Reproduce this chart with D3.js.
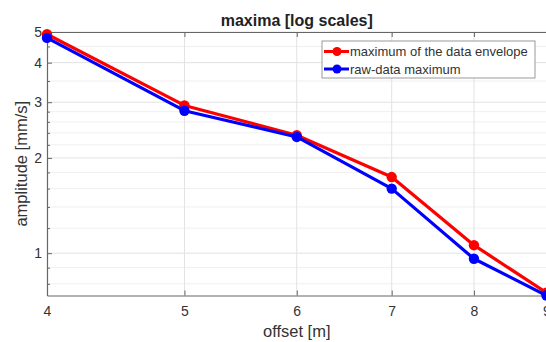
<!DOCTYPE html>
<html>
<head>
<meta charset="utf-8">
<script src="https://cdn.jsdelivr.net/npm/d3@7"></script>
<style>
  html, body { margin: 0; padding: 0; background: #fff; overflow: hidden; }
  svg { display: block; font-family: "Liberation Sans", Arial, sans-serif; }
</style>
</head>
<body>
<svg id="chart" width="546" height="342"></svg>
<script>
// Offsets [m] and the two maxima series [mm/s]
const offsets = [4, 5, 6, 7, 8, 9];
const envelopeMax = [4.92, 2.93, 2.36, 1.74, 1.06, 0.75];
const rawMax = [4.79, 2.82, 2.33, 1.60, 0.96, 0.735];

const seriesNames = ["maximum of the data envelope", "raw-data maximum"];
const seriesColors = ["#ff0000", "#0000ff"];

const xTicks = [4, 5, 6, 7, 8, 9];
const yTicks = [1, 2, 3, 4, 5];
const yMinor = [0.8, 0.9, 1.2, 1.4, 1.6, 1.8, 2.2, 2.4, 2.6, 2.8, 3.5, 4.5];

const svg = d3.select("#chart");
const plotLeft = 47, plotRight = 546.5, plotTop = 32, plotBottom = 295.5;

const x = d3.scaleLog().domain([4, 9]).range([plotLeft, plotRight]);
const y = d3.scaleLog().domain([0.735, 5]).range([plotBottom, plotTop]);

const axisColor = "#666";
const textColor = "#333";

// grid
const grid = svg.append("g");
grid.selectAll("line.ym").data(yMinor).join("line")
  .attr("x1", plotLeft).attr("x2", plotRight)
  .attr("y1", d => y(d)).attr("y2", d => y(d))
  .attr("stroke", "#efefef").attr("stroke-width", 1);
grid.selectAll("line.y").data(yTicks).join("line")
  .attr("x1", plotLeft).attr("x2", plotRight)
  .attr("y1", d => y(d)).attr("y2", d => y(d))
  .attr("stroke", "#e2e2e2").attr("stroke-width", 1);
grid.selectAll("line.x").data(xTicks.slice(1, -1)).join("line")
  .attr("x1", d => x(d)).attr("x2", d => x(d))
  .attr("y1", plotTop).attr("y2", plotBottom)
  .attr("stroke", "#e2e2e2").attr("stroke-width", 1);

// axes (ticks point inward)
const xAxis = d3.axisBottom(x).tickValues(xTicks).tickFormat(d3.format("d"))
  .tickSizeInner(-5).tickSizeOuter(0).tickPadding(11);
const gx = svg.append("g").attr("transform", `translate(0,${plotBottom})`).call(xAxis);
const xTop = d3.axisTop(x).tickValues(xTicks).tickFormat("").tickSizeInner(-5).tickSizeOuter(0);
const gxt = svg.append("g").attr("transform", `translate(0,${plotTop})`).call(xTop);

const yAxis = d3.axisLeft(y).tickValues(yTicks).tickFormat(d3.format("d"))
  .tickSizeInner(-5).tickSizeOuter(0).tickPadding(5);
const gy = svg.append("g").attr("transform", `translate(${plotLeft},0)`).call(yAxis);
const yMinorAxis = d3.axisLeft(y).tickValues(yMinor).tickFormat("").tickSizeInner(-3).tickSizeOuter(0);
const gym = svg.append("g").attr("transform", `translate(${plotLeft},0)`).call(yMinorAxis);
gym.select(".domain").remove();

[gx, gxt, gy, gym].forEach(g => {
  g.selectAll(".domain").attr("stroke", axisColor).attr("stroke-width", 1.2);
  g.selectAll(".tick line").attr("stroke", axisColor);
  g.selectAll("text").attr("fill", textColor).attr("font-size", 14)
    .attr("font-family", "Liberation Sans, Arial, sans-serif");
});

// series
const seriesData = [envelopeMax, rawMax];
const line = d3.line().x(d => x(d[0])).y(d => y(d[1]));
seriesData.forEach((vals, i) => {
  const pts = offsets.map((o, j) => [o, vals[j]]);
  svg.append("path").datum(pts)
    .attr("d", line).attr("fill", "none")
    .attr("stroke", seriesColors[i]).attr("stroke-width", 3.2)
    .attr("stroke-linejoin", "round");
  svg.append("g").selectAll("circle").data(pts).join("circle")
    .attr("cx", d => x(d[0])).attr("cy", d => y(d[1])).attr("r", 5.2)
    .attr("fill", seriesColors[i]);
});

// title and axis labels
svg.append("text").attr("x", (plotLeft + plotRight) / 2).attr("y", 26)
  .attr("text-anchor", "middle").attr("font-weight", "bold").attr("font-size", 16)
  .attr("fill", "#222").text("maxima [log scales]");
svg.append("text").attr("x", (plotLeft + plotRight) / 2).attr("y", 337)
  .attr("text-anchor", "middle").attr("font-size", 16.5).attr("fill", textColor)
  .text("offset [m]");
svg.append("text")
  .attr("transform", `translate(27,${(plotTop + plotBottom) / 2}) rotate(-90)`)
  .attr("text-anchor", "middle").attr("font-size", 16.5).attr("fill", textColor)
  .text("amplitude [mm/s]");

// legend
const lg = svg.append("g").attr("transform", "translate(322,41)");
lg.append("rect").attr("width", 213).attr("height", 37)
  .attr("fill", "#fff").attr("stroke", "#999").attr("stroke-width", 1);
seriesNames.forEach((name, i) => {
  const cy = 10.5 + i * 17.5;
  lg.append("line").attr("x1", 2).attr("x2", 27).attr("y1", cy).attr("y2", cy)
    .attr("stroke", seriesColors[i]).attr("stroke-width", 3);
  lg.append("circle").attr("cx", 15).attr("cy", cy).attr("r", 4.5).attr("fill", seriesColors[i]);
  lg.append("text").attr("x", 28).attr("y", cy + 4.5).attr("font-size", 13)
    .attr("fill", textColor).text(name);
});
</script>
</body>
</html>
